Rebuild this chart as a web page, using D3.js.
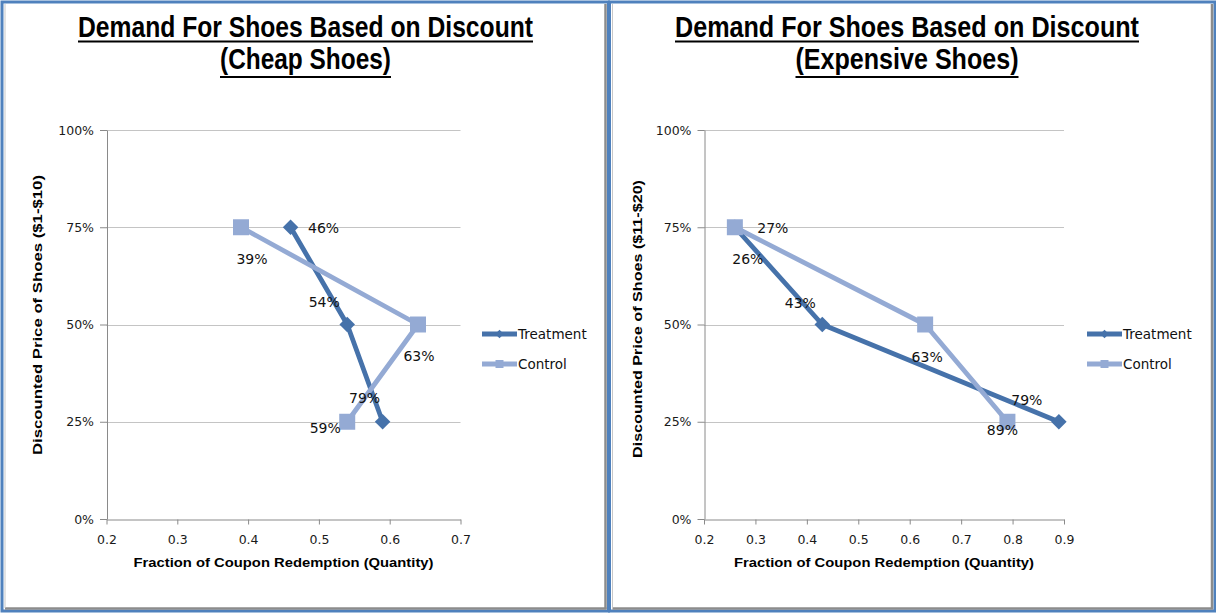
<!DOCTYPE html>
<html>
<head>
<meta charset="utf-8">
<script src="https://cdn.jsdelivr.net/npm/d3@7"></script>
<style>
  html, body { margin: 0; padding: 0; background: #ffffff; }
  svg { display: block; }
</style>
</head>
<body>
<svg id="chart" width="1216" height="613"></svg>
<script>
// ---------------- DATA ----------------
const seriesNames = ["Treatment", "Control"];
const priceLevels = [0.75, 0.50, 0.25];
const yTickValues = [0, 0.25, 0.5, 0.75, 1];

const cheapTitle = ["Demand For Shoes Based on Discount", "(Cheap Shoes)"];
const cheapXTicks = [0.2, 0.3, 0.4, 0.5, 0.6, 0.7];
const cheapTreatment = [0.46, 0.54, 0.59];
const cheapControl = [0.39, 0.64, 0.54];
const cheapTreatmentLabels = ["46%", "54%", "79%"];
const cheapControlLabels = ["39%", "63%", "59%"];

const expTitle = ["Demand For Shoes Based on Discount", "(Expensive Shoes)"];
const expXTicks = [0.2, 0.3, 0.4, 0.5, 0.6, 0.7, 0.8, 0.9];
const expTreatment = [0.26, 0.43, 0.89];
const expControl = [0.26, 0.63, 0.79];
const expTreatmentLabels = ["26%", "43%", "79%"];
const expControlLabels = ["27%", "63%", "89%"];

const xAxisTitle = "Fraction of Coupon Redemption (Quantity)";
const cheapYTitle = "Discounted Price of Shoes  ($1-$10)";
const expYTitle = "Discounted Price of Shoes  ($11-$20)";

// ---------------- STYLE / LAYOUT ----------------
const colors = { Treatment: "#4672aa", Control: "#94aad4" };
// label offsets (dx, dy from point, text centred)
const cheapTreatmentOffsets = [[33, 1], [-23, -23], [-18, -24]];
const cheapControlOffsets = [[11, 32], [1, 31], [-22, 6]];
const expTreatmentOffsets = [[13, 32], [-22, -22], [-32, -22]];
const expControlOffsets = [[38, 1], [2, 32], [-5, 8]];

const svg = d3.select("#chart");
const tickFont = "'DejaVu Sans', sans-serif";

function panel(cfg) {
  const g = svg.append("g");
  const x = d3.scaleLinear().domain([cfg.xTicks[0], cfg.xTicks[cfg.xTicks.length - 1]]).range(cfg.xRange);
  const y = d3.scaleLinear().domain([0, 1]).range([519, 130]);

  // Title
  cfg.title.forEach((t, i) => {
    const base = i === 0 ? 37 : 69;
    const w = cfg.titleWidths[i];
    g.append("text")
      .attr("x", cfg.cx).attr("y", base)
      .attr("text-anchor", "middle")
      .attr("font-family", "'Liberation Sans Narrow', 'Liberation Sans', sans-serif")
      .attr("font-weight", "bold").attr("font-size", 29)
      .attr("textLength", w).attr("lengthAdjust", "spacingAndGlyphs")
      .attr("fill", "#000").text(t);
    g.append("rect")
      .attr("x", cfg.cx - w / 2).attr("y", base + (i === 0 ? 3.5 : 7))
      .attr("width", w).attr("height", 2).attr("fill", "#000");
  });

  // Gridlines
  g.selectAll("line.grid").data(yTickValues.filter(v => v > 0)).join("line")
    .attr("class", "grid")
    .attr("x1", cfg.xRange[0]).attr("x2", cfg.xRange[1])
    .attr("y1", d => Math.round(y(d)) + 0.5).attr("y2", d => Math.round(y(d)) + 0.5)
    .attr("stroke", "#c4c4c4").attr("stroke-width", 1);

  // Y axis
  const yAxis = g.append("g").attr("transform", `translate(${cfg.xRange[0] + 0.5},0)`)
    .call(d3.axisLeft(y).tickValues(yTickValues).tickFormat(d3.format(".0%"))
      .tickSize(7).tickSizeOuter(0).tickPadding(6));
  // X axis
  const xAxis = g.append("g").attr("transform", `translate(0,${519.5})`)
    .call(d3.axisBottom(x).tickValues(cfg.xTicks).tickFormat(d3.format(".1f"))
      .tickSize(5).tickSizeOuter(0).tickPadding(11));
  [yAxis, xAxis].forEach(a => {
    a.selectAll("path.domain").attr("stroke", "#8a8a8a");
    a.selectAll(".tick line").attr("stroke", "#8a8a8a");
    a.selectAll(".tick text").attr("font-family", tickFont).attr("font-size", 12.5).attr("fill", "#1a1a1a");
  });

  // Axis titles
  g.append("text")
    .attr("x", (cfg.xRange[0] + cfg.xRange[1]) / 2 + cfg.xTitleShift).attr("y", 567)
    .attr("text-anchor", "middle")
    .attr("font-family", "'Liberation Sans', sans-serif").attr("font-weight", "bold").attr("font-size", 13)
    .attr("textLength", 300).attr("lengthAdjust", "spacingAndGlyphs")
    .attr("fill", "#000").text(xAxisTitle);
  g.append("text")
    .attr("transform", `translate(${cfg.yTitleX},${cfg.yTitleCy}) rotate(-90)`)
    .attr("text-anchor", "middle")
    .attr("font-family", "'Liberation Sans', sans-serif").attr("font-weight", "bold").attr("font-size", 13)
    .attr("textLength", cfg.yTitleLen).attr("lengthAdjust", "spacingAndGlyphs")
    .attr("fill", "#000").text(cfg.yTitle);

  // Series
  const series = [
    { name: "Treatment", vals: cfg.treatment, labels: cfg.treatmentLabels, offs: cfg.treatmentOffsets, shape: "diamond" },
    { name: "Control", vals: cfg.control, labels: cfg.controlLabels, offs: cfg.controlOffsets, shape: "square" }
  ];
  const line = d3.line().x(d => x(d.q)).y(d => y(d.p));
  series.forEach(s => {
    const pts = s.vals.map((q, i) => ({ q, p: priceLevels[i], label: s.labels[i], off: s.offs[i] }));
    const sg = g.append("g");
    sg.append("path").datum(pts).attr("d", line)
      .attr("fill", "none").attr("stroke", colors[s.name]).attr("stroke-width", 4.8)
      .attr("stroke-linejoin", "round");
    const sym = d3.symbol().type(d3.symbolSquare).size(s.shape === "diamond" ? 121 : 256);
    sg.selectAll("path.mark").data(pts).join("path").attr("class", "mark")
      .attr("d", sym())
      .attr("transform", d => `translate(${x(d.q)},${y(d.p)})` + (s.shape === "diamond" ? " rotate(45)" : ""))
      .attr("fill", colors[s.name]);
    s.pts = pts;
  });
  series.forEach(s => {
    g.selectAll(null).data(s.pts).join("text")
      .attr("x", d => x(d.q) + d.off[0]).attr("y", d => y(d.p) + d.off[1])
      .attr("dy", "0.36em").attr("text-anchor", "middle")
      .attr("font-family", tickFont).attr("font-size", 14).attr("fill", "#111")
      .text(d => d.label);
  });

  // Legend
  const leg = g.append("g").attr("transform", `translate(${cfg.legendX},0)`);
  series.forEach((s, i) => {
    const ly = 334 + i * 30;
    leg.append("line").attr("x1", 0).attr("x2", 35).attr("y1", ly).attr("y2", ly)
      .attr("stroke", colors[s.name]).attr("stroke-width", 4.8);
    leg.append("path")
      .attr("d", d3.symbol().type(d3.symbolSquare).size(s.shape === "diamond" ? 36 : 64)())
      .attr("transform", `translate(17.5,${ly})` + (s.shape === "diamond" ? " rotate(45)" : ""))
      .attr("fill", colors[s.name]);
    leg.append("text").attr("x", 36).attr("y", ly).attr("dy", "0.36em")
      .attr("font-family", tickFont).attr("font-size", 13.5).attr("fill", "#111")
      .text(s.name);
  });
}

// Panel frames
function frame(x0, x1) {
  svg.append("rect").attr("x", x0).attr("y", 2).attr("width", x1 - x0).attr("height", 609)
    .attr("fill", "#fff").attr("stroke", "#4f81bd").attr("stroke-width", 3);
  svg.append("line").attr("x1", x1 - 3).attr("x2", x1 - 3).attr("y1", 4).attr("y2", 609)
    .attr("stroke", "#8c8c8c").attr("stroke-width", 2.5);
  svg.append("line").attr("x1", x0 + 3).attr("x2", x1 - 2).attr("y1", 608.5).attr("y2", 608.5)
    .attr("stroke", "#8c8c8c").attr("stroke-width", 2.5);
  svg.append("line").attr("x1", x0 + 3).attr("x2", x0 + 3).attr("y1", 4).attr("y2", 608)
    .attr("stroke", "#c8c8c8").attr("stroke-width", 1);
}
frame(2, 608.5);
frame(609.5, 1215);

panel({
  title: cheapTitle, titleWidths: [455, 171], cx: 305.5,
  xTicks: cheapXTicks, xRange: [106.5, 460.5], xTitleShift: 0,
  yTitle: cheapYTitle, yTitleX: 42, yTitleCy: 315, yTitleLen: 280,
  treatment: cheapTreatment, control: cheapControl,
  treatmentLabels: cheapTreatmentLabels, controlLabels: cheapControlLabels,
  treatmentOffsets: cheapTreatmentOffsets, controlOffsets: cheapControlOffsets,
  legendX: 482
});
panel({
  title: expTitle, titleWidths: [464, 223], cx: 907,
  xTicks: expXTicks, xRange: [704, 1064], xTitleShift: 0,
  yTitle: expYTitle, yTitleX: 642, yTitleCy: 319, yTitleLen: 278,
  treatment: expTreatment, control: expControl,
  treatmentLabels: expTreatmentLabels, controlLabels: expControlLabels,
  treatmentOffsets: expTreatmentOffsets, controlOffsets: expControlOffsets,
  legendX: 1087
});
</script>
</body>
</html>
